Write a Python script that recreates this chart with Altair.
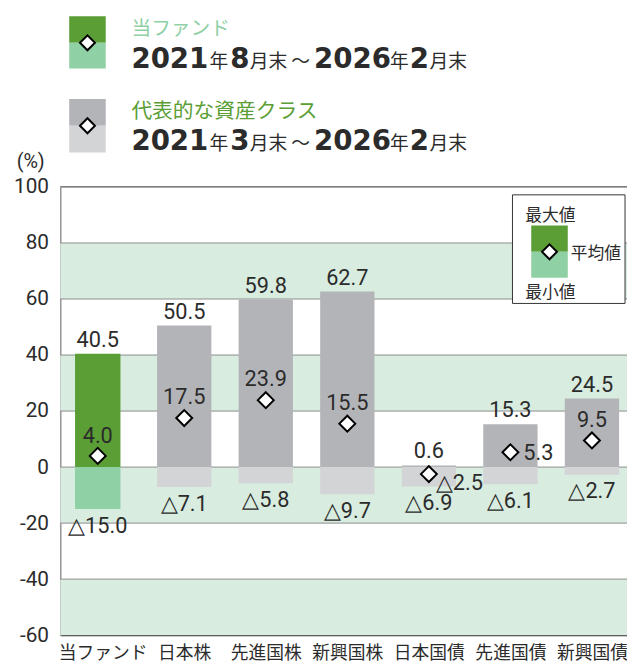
import json
import altair as alt
import pandas as pd

# ---------------- data ----------------
categories = ["当ファンド", "日本株", "先進国株", "新興国株", "日本国債", "先進国債", "新興国債"]
max_values = [40.5, 50.5, 59.8, 62.7, 0.6, 15.3, 24.5]
avg_values = [4.0, 17.5, 23.9, 15.5, -2.5, 5.3, 9.5]
min_values = [-15.0, -7.1, -5.8, -9.7, -6.9, -6.1, -2.7]
groups = ["fund", "asset", "asset", "asset", "asset", "asset", "asset"]

y_tick_values = [-60, -40, -20, 0, 20, 40, 60, 80, 100]
grid_values = [-40, -20, 0, 20, 40, 60, 80]
band_high = [80, 40, 0, -40]
band_low = [60, 20, -20, -60]

legend_line1 = ["2021", "年", "8", "月末", "～", "2026", "年", "2", "月末"]
legend_line2 = ["2021", "年", "3", "月末", "～", "2026", "年", "2", "月末"]


def fmt(v):
    return ("△" if v < 0 else "") + f"{abs(v):.1f}"


df = pd.DataFrame({
    "cat": categories,
    "idx": list(range(len(categories))),
    "max": max_values,
    "avg": avg_values,
    "min": min_values,
    "group": groups,
})
df["zero"] = 0.0
df["max_label"] = [fmt(v) for v in max_values]
df["avg_label"] = [fmt(v) for v in avg_values]
df["min_label"] = [fmt(v) for v in min_values]

bands = pd.DataFrame({"hi": band_high, "lo": band_low})
grid = pd.DataFrame({"v": grid_values})
top = pd.DataFrame({"v": [100]})
one = pd.DataFrame({"k": [0]})

# ---------------- layout ----------------
W, H = 574, 454
N = len(categories)
STEP = 82.6            # px between category centres
FIRST_CENTER = 42.9    # px, first category centre inside the plot
X_LO = -FIRST_CENTER / STEP
X_HI = (W - FIRST_CENTER) / STEP
FUND_SHIFT = 5 / STEP  # fund group sits 5px left of its category centre

NUM_FONT = "Liberation Sans Narrow, Roboto, Noto Sans, sans-serif"
BOLD_FONT = "DejaVu Sans, Noto Sans, sans-serif"
JP_FONT = "Noto Sans CJK JP"
GREEN_DARK = "#5a9e35"
GREEN_LIGHT = "#8fd0a5"
GRAY_DARK = "#b3b4b8"
GRAY_LIGHT = "#d3d4d6"
BAND = "#d8ece0"
TXT = "#2b2b2b"

yscale = alt.Scale(domain=[-60, 100], nice=False, zero=False, padding=0)
yaxis = alt.Axis(values=y_tick_values, labelExpr="'' + datum.value", title=None,
                 ticks=False, tickSize=0, labelPadding=12, grid=False,
                 labelFont=NUM_FONT, labelFontSize=21, labelColor=TXT,
                 domainColor="#7a7a7a", domainWidth=1.2)
xscale = alt.Scale(domain=[X_LO, X_HI], nice=False, zero=False, padding=0)
xaxis = alt.Axis(title=None, ticks=False, tickSize=0, labelAngle=0, labelPadding=10,
                 values=list(range(N)),
                 labelExpr=json.dumps(categories, ensure_ascii=False) + "[datum.value]",
                 labelFont=JP_FONT, labelFontSize=18, labelColor=TXT, labelFlush=False,
                 labelBound=False, labelOverlap=False, grid=False,
                 domainColor="#333333", domainWidth=1.2)
x_enc = alt.X("xpos:Q", scale=xscale, axis=xaxis)


def Y(field):
    return alt.Y(field, scale=yscale, axis=yaxis)


# ---------------- plot layers ----------------
band_layer = alt.Chart(bands).mark_rect(color=BAND).encode(
    y=Y("hi:Q"), y2="lo:Q", x=alt.value(0), x2=alt.value(W))
grid_layer = alt.Chart(grid).mark_rule(color="#8c8c8c", strokeWidth=1).encode(
    y=Y("v:Q"), x=alt.value(0), x2=alt.value(W))
top_layer = alt.Chart(top).mark_rule(color="#555555", strokeWidth=1.2).encode(
    y=Y("v:Q"), x=alt.value(0), x2=alt.value(W))


def group_base(group, shift):
    return alt.Chart(df).transform_filter(alt.datum.group == group).transform_calculate(
        xpos=f"datum.idx - {shift}")


def group_layers(group, width, dark, light, shift):
    base = group_base(group, shift)
    return [
        base.mark_bar(color=dark, size=width, orient="vertical").encode(
            x=x_enc, y=Y("max:Q"), y2="zero:Q"),
        base.mark_bar(color=light, size=width, orient="vertical").encode(
            x=x_enc, y=Y("zero:Q"), y2="min:Q"),
        base.mark_point(shape="diamond", filled=True, color="white", stroke="black",
                        strokeWidth=2, size=260, opacity=1).encode(x=x_enc, y=Y("avg:Q")),
        base.mark_text(font=NUM_FONT, fontSize=22, color=TXT, dy=-7, baseline="alphabetic").encode(
            x=x_enc, y=Y("max:Q"), text="max_label:N"),
        base.mark_text(font=NUM_FONT, fontSize=22, color=TXT, dy=24, baseline="alphabetic").encode(
            x=x_enc, y=Y("min:Q"), text="min_label:N"),
    ]


avg_right_low = ["日本国債"]
avg_right = ["先進国債"]
asset_base = group_base("asset", 0)
avg_default = asset_base.transform_filter(
    ~alt.FieldOneOfPredicate(field="cat", oneOf=avg_right_low + avg_right)
).mark_text(font=NUM_FONT, fontSize=22, color=TXT, dy=-14, baseline="alphabetic").encode(
    x=x_enc, y=Y("avg:Q"), text="avg_label:N")
avg_fund = group_base("fund", FUND_SHIFT).mark_text(
    font=NUM_FONT, fontSize=22, color=TXT, dy=-13, baseline="alphabetic"
).encode(x=x_enc, y=Y("avg:Q"), text="avg_label:N")
avg_rl = asset_base.transform_filter(
    alt.FieldOneOfPredicate(field="cat", oneOf=avg_right_low)
).mark_text(font=NUM_FONT, fontSize=22, color=TXT, dx=7, dy=16, align="left",
            baseline="alphabetic").encode(x=x_enc, y=Y("avg:Q"), text="avg_label:N")
avg_r = asset_base.transform_filter(
    alt.FieldOneOfPredicate(field="cat", oneOf=avg_right)
).mark_text(font=NUM_FONT, fontSize=22, color=TXT, dx=13, dy=8, align="left",
            baseline="alphabetic").encode(x=x_enc, y=Y("avg:Q"), text="avg_label:N")


# ---------------- decorations (legends) ----------------
def vrect(x, x2, y, y2, **kw):
    return alt.Chart(one).mark_rect(**kw).encode(
        x=alt.value(x), x2=alt.value(x2), y=alt.value(y), y2=alt.value(y2))


def vtext(x, y, text, size, font, color=TXT, weight="normal", align="left"):
    return alt.Chart(one).mark_text(text=text, fontSize=size, font=font, color=color,
                                    fontWeight=weight, align=align, baseline="alphabetic").encode(
        x=alt.value(x), y=alt.value(y))


def vdiamond(x, y):
    return alt.Chart(one).mark_point(shape="diamond", filled=True, color="white", stroke="black",
                                     strokeWidth=2, size=230, opacity=1).encode(
        x=alt.value(x), y=alt.value(y))


seg_x = [72, 151, 172, 192, 234, 257, 334, 354, 374]


def date_line(segs, y):
    out = []
    for s, xx in zip(segs, seg_x):
        if s[0].isdigit():
            out.append(vtext(xx, y, s, 28, BOLD_FONT, weight="bold"))
        else:
            out.append(vtext(xx, y, s, 19, JP_FONT))
    return out


legend = [
    vrect(9, 46, -173, -146, color=GREEN_DARK),
    vrect(9, 46, -146, -120, color=GREEN_LIGHT),
    vdiamond(27.5, -146),
    vtext(72, -154, "当ファンド", 20, JP_FONT, color=GREEN_LIGHT),
    *date_line(legend_line1, -120),
    vrect(9, 46, -89, -62, color=GRAY_DARK),
    vrect(9, 46, -62, -35, color=GRAY_LIGHT),
    vdiamond(27.5, -62),
    vtext(72, -70, "代表的な資産クラス", 21, JP_FONT, color=GREEN_DARK),
    *date_line(legend_line2, -37),
    vtext(-30, -19, "(%)", 20, NUM_FONT, align="center"),
    # inner legend box
    vrect(458, 572, 8, 118, fill="white", stroke="#333333", strokeWidth=1),
    vtext(471, 34, "最大値", 17, JP_FONT),
    vrect(477, 514, 39, 65.7, color=GREEN_DARK),
    vrect(477, 514, 65.7, 92, color=GREEN_LIGHT),
    vdiamond(495.5, 65.7),
    vtext(517, 73, "平均値", 17, JP_FONT),
    vtext(471, 112, "最小値", 17, JP_FONT),
]

layers = [band_layer, grid_layer, top_layer]
layers += group_layers("fund", 46, GREEN_DARK, GREEN_LIGHT, FUND_SHIFT)
layers += group_layers("asset", 55, GRAY_DARK, GRAY_LIGHT, 0)
layers += [avg_default, avg_fund, avg_rl, avg_r]
layers += legend

chart = alt.layer(*layers).properties(
    width=W, height=H,
    padding={"left": 53, "top": 177, "right": 0, "bottom": 30},
    autosize=alt.AutoSizeParams(type="none"),
).configure_view(stroke=None)

chart.save("out.html", embed_options={"renderer": "svg", "actions": False})
